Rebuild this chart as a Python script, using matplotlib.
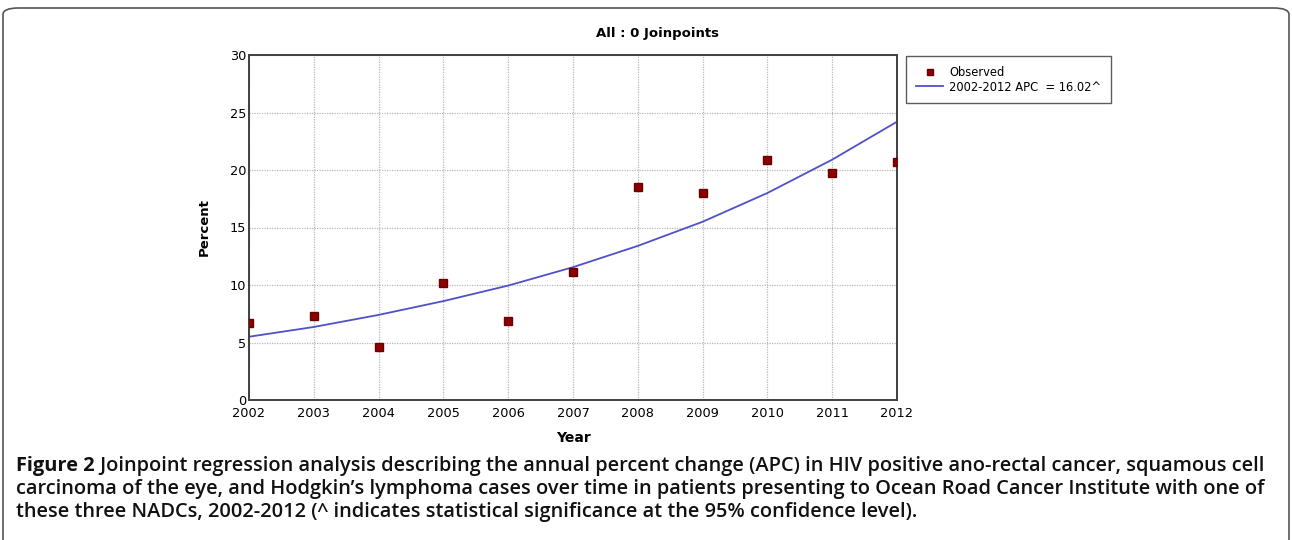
import matplotlib
matplotlib.use("Agg")
import matplotlib.pyplot as plt
from matplotlib.patches import FancyBboxPatch

years = [2002, 2003, 2004, 2005, 2006, 2007, 2008, 2009, 2010, 2011, 2012]
observed = [6.7, 7.3, 4.6, 10.2, 6.9, 11.1, 18.5, 18.0, 20.9, 19.7, 20.7]
fitted = [5.5, 6.35, 7.4, 8.6, 9.95, 11.55, 13.4, 15.5, 18.0, 20.9, 24.2]
yticks = [0, 5, 10, 15, 20, 25, 30]
title = "All : 0 Joinpoints"
legend_labels = ["Observed", "2002-2012 APC  = 16.02^"]
caption_bold = "Figure 2"
caption_lines = [
    " Joinpoint regression analysis describing the annual percent change (APC) in HIV positive ano-rectal cancer, squamous cell",
    "carcinoma of the eye, and Hodgkin\u2019s lymphoma cases over time in patients presenting to Ocean Road Cancer Institute with one of",
    "these three NADCs, 2002-2012 (^ indicates statistical significance at the 95% confidence level).",
]

W, H = 1292, 540
fig = plt.figure(figsize=(W / 100, H / 100), dpi=100)
fig.patch.set_facecolor("white")

frame = FancyBboxPatch((3 / W, -20 / H), (W - 6) / W, (H - 8 + 20) / H,
                       boxstyle="round,pad=0,rounding_size=0.012",
                       transform=fig.transFigure, fill=False,
                       edgecolor="#555555", linewidth=1.2)
fig.patches.append(frame)

ax = fig.add_axes([249 / W, 1 - 400 / H, (897 - 249) / W, (400 - 55) / H])
ax.plot(years, fitted, color="#5050c8", linewidth=1.3, zorder=2, label=legend_labels[1])
ax.plot(years, observed, linestyle="none", marker="s", markersize=5.2,
        markerfacecolor="#8b0000", markeredgecolor="#6a0000", zorder=3, label=legend_labels[0])

ax.set_xlim(years[0], years[-1])
ax.set_ylim(yticks[0], yticks[-1])
ax.set_xticks(years)
ax.set_yticks(yticks)
ax.grid(True, color="#b8b8b8", linestyle=(0, (1, 1)), linewidth=0.9)
ax.set_axisbelow(True)
for s in ax.spines.values():
    s.set_color("#404040")
    s.set_linewidth(1.4)
ax.tick_params(axis="both", length=0, labelsize=9.3, colors="black", pad=5)
ax.tick_params(axis="y", pad=2)
ax.set_xlabel("Year", fontsize=10, fontweight="bold", labelpad=8)
ax.set_ylabel("Percent", fontsize=9.5, fontweight="bold", labelpad=14)
fig.text(658 / W, 1 - 34 / H, title, fontsize=9.5, fontweight="bold", ha="center", va="center")

handles, labels = ax.get_legend_handles_labels()
leg = fig.legend(handles[::-1], labels[::-1], loc="upper left",
                 bbox_to_anchor=(906 / W, 1 - 56 / H), fontsize=8.3,
                 frameon=True, fancybox=False, edgecolor="#333333",
                 handlelength=2.4, handletextpad=0.5, borderpad=0.85,
                 labelspacing=0.15, markerscale=0.75, borderaxespad=0)
leg.get_frame().set_linewidth(1.0)

fam, w_rest = "Open Sans", "semibold"
y0 = 1 - 466 / H
dy = 23 / H
size = 14.0
t = fig.text(16 / W, y0, caption_bold, fontweight="bold", va="center",
             family=fam, fontsize=size, color="#111111")
fig.canvas.draw()
bb = t.get_window_extent()
t1 = fig.text(bb.x1 / W, y0, caption_lines[0], fontweight=w_rest, va="center",
              family=fam, fontsize=size, color="#111111")
fig.canvas.draw()
right = t1.get_window_extent().x1
scale = (1276 - 16) / (right - 16)
size *= scale
t.set_fontsize(size)
fig.canvas.draw()
bb = t.get_window_extent()
t1.set_fontsize(size)
t1.set_x(bb.x1 / W)
for i, line in enumerate(caption_lines[1:], start=1):
    fig.text(16 / W, y0 - i * dy, line, fontweight=w_rest, va="center",
             family=fam, fontsize=size, color="#111111")

fig.savefig("out.png", dpi=100, facecolor="white")
